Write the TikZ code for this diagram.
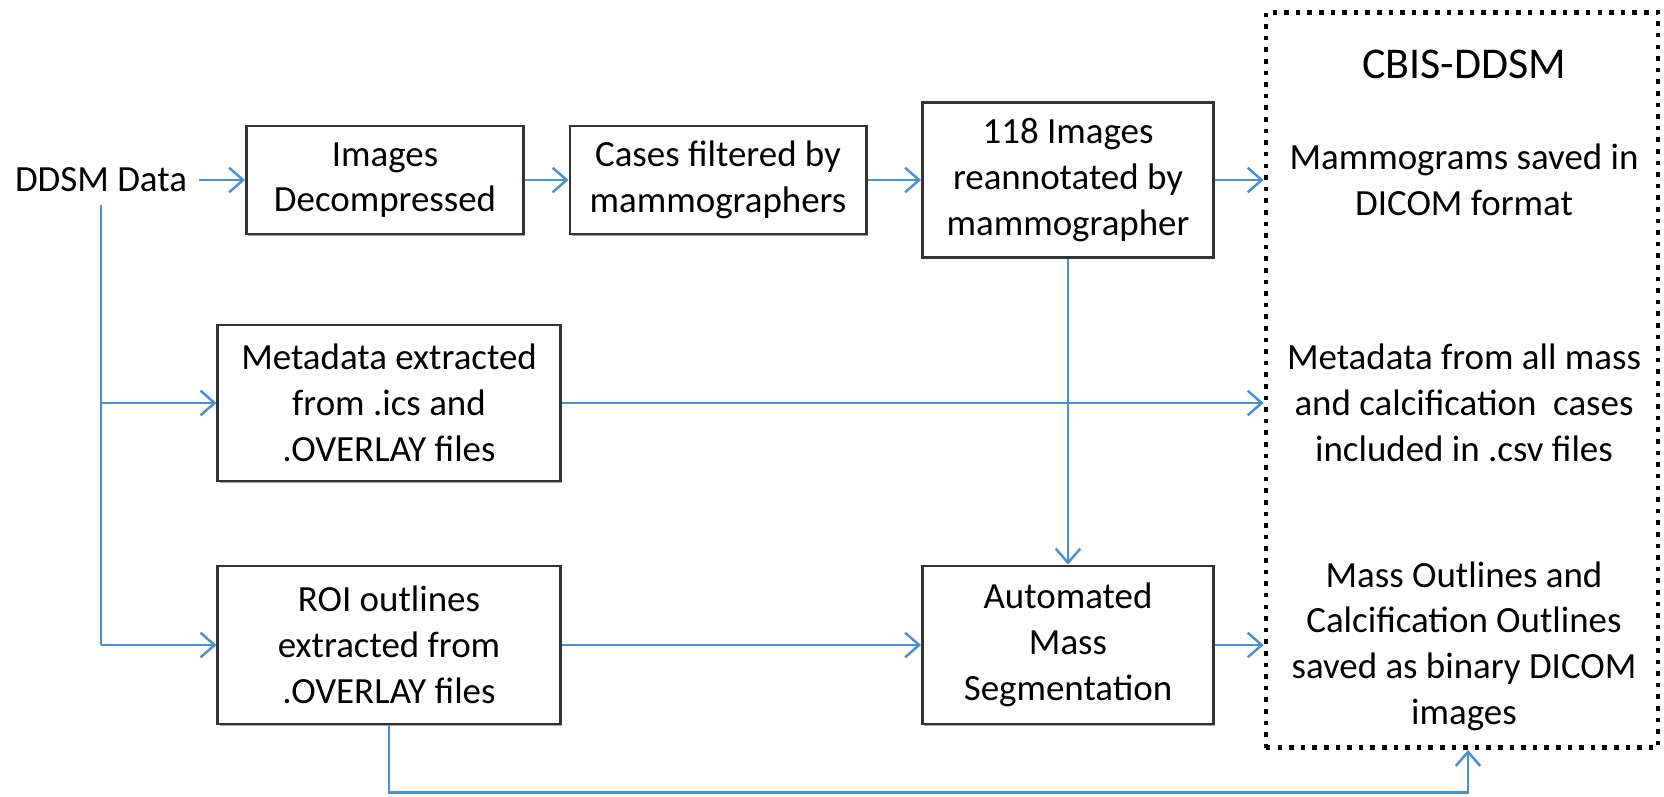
\documentclass[tikz,border=0pt]{standalone}
\usepackage{fontspec}
\setmainfont{Carlito}
\usetikzlibrary{arrows.meta,shadows}
\definecolor{flowblue}{HTML}{4A8FD2}

\begin{document}
\begin{tikzpicture}[x=0.01cm,y=-0.01cm,
		font=\fontsize{10.5}{13}\selectfont,
		box/.style={draw=black!80,line width=0.8pt,fill=white,align=center,inner sep=0pt,
			drop shadow={shadow xshift=0.5pt,shadow yshift=-0.5pt,opacity=0.35,fill=black}},
		flow/.style={draw=flowblue,line width=0.7pt,-{Straight Barb[length=4pt,width=7pt]}},
		line/.style={draw=flowblue,line width=0.7pt}]
			\useasboundingbox (0,0) rectangle (1664,796);
			\node (ddsm) at (101,180) {DDSM Data};
			\node[box,minimum width=2.77cm,minimum height=1.08cm] (dec) at (385,180) {Images\\Decompressed};
			\node[box,minimum width=2.96cm,minimum height=1.08cm] (filt) at (718,180) {Cases filtered by\\mammographers};
			\node[box,minimum width=2.91cm,minimum height=1.55cm] (reann) at (1068,180) {118 Images\\reannotated by\\mammographer};
			\node[box,minimum width=3.42cm,minimum height=1.56cm] (meta) at (389,403) {Metadata extracted\\from .ics and\\.OVERLAY files};
			\node[box,minimum width=3.42cm,minimum height=1.58cm] (roi) at (389,645) {ROI outlines\\extracted from\\.OVERLAY files};
			\node[box,minimum width=2.91cm,minimum height=1.58cm] (seg) at (1068,645) {Automated\\Mass\\Segmentation};
			\node[draw,line width=1.3pt,dotted,minimum width=3.92cm,minimum height=7.35cm] (cbis) at (1462,380) {};
			\node[font=\fontsize{12.5}{15}\selectfont] (title) at (1464,64) {CBIS-DDSM};
			\node[align=center] (mammo) at (1464,180) {Mammograms saved in\\DICOM format};
			\node[align=center] (csv) at (1464,403) {Metadata from all mass\\and calcification~ cases\\included in .csv files};
			\node[align=center] (outl) at (1464,646) {Mass Outlines and\\Calcification Outlines\\saved as binary DICOM\\images};
			% top row
			\draw[flow] (ddsm) -- (dec);
			\draw[flow] (dec) -- (filt);
			\draw[flow] (filt) -- (reann);
			\draw[flow] (reann) -- (reann -| cbis.west);
			\draw[flow] (reann) -- (seg);
			% branches from DDSM Data
			\coordinate (b1) at (ddsm |- meta);
			\coordinate (b2) at (ddsm |- roi);
			\draw[line] (ddsm.south) -- (b2);
			\draw[flow] (b1) -- (meta);
			\draw[flow] (b2) -- (roi);
			\draw[flow] (meta) -- (meta -| cbis.west);
			\draw[flow] (roi) -- (seg);
			\draw[flow] (seg) -- (seg -| cbis.west);
			\draw[flow] (roi.south) -- ++(0,67) -| ([xshift=0.06cm]cbis.south);
		\end{tikzpicture}
\end{document}
